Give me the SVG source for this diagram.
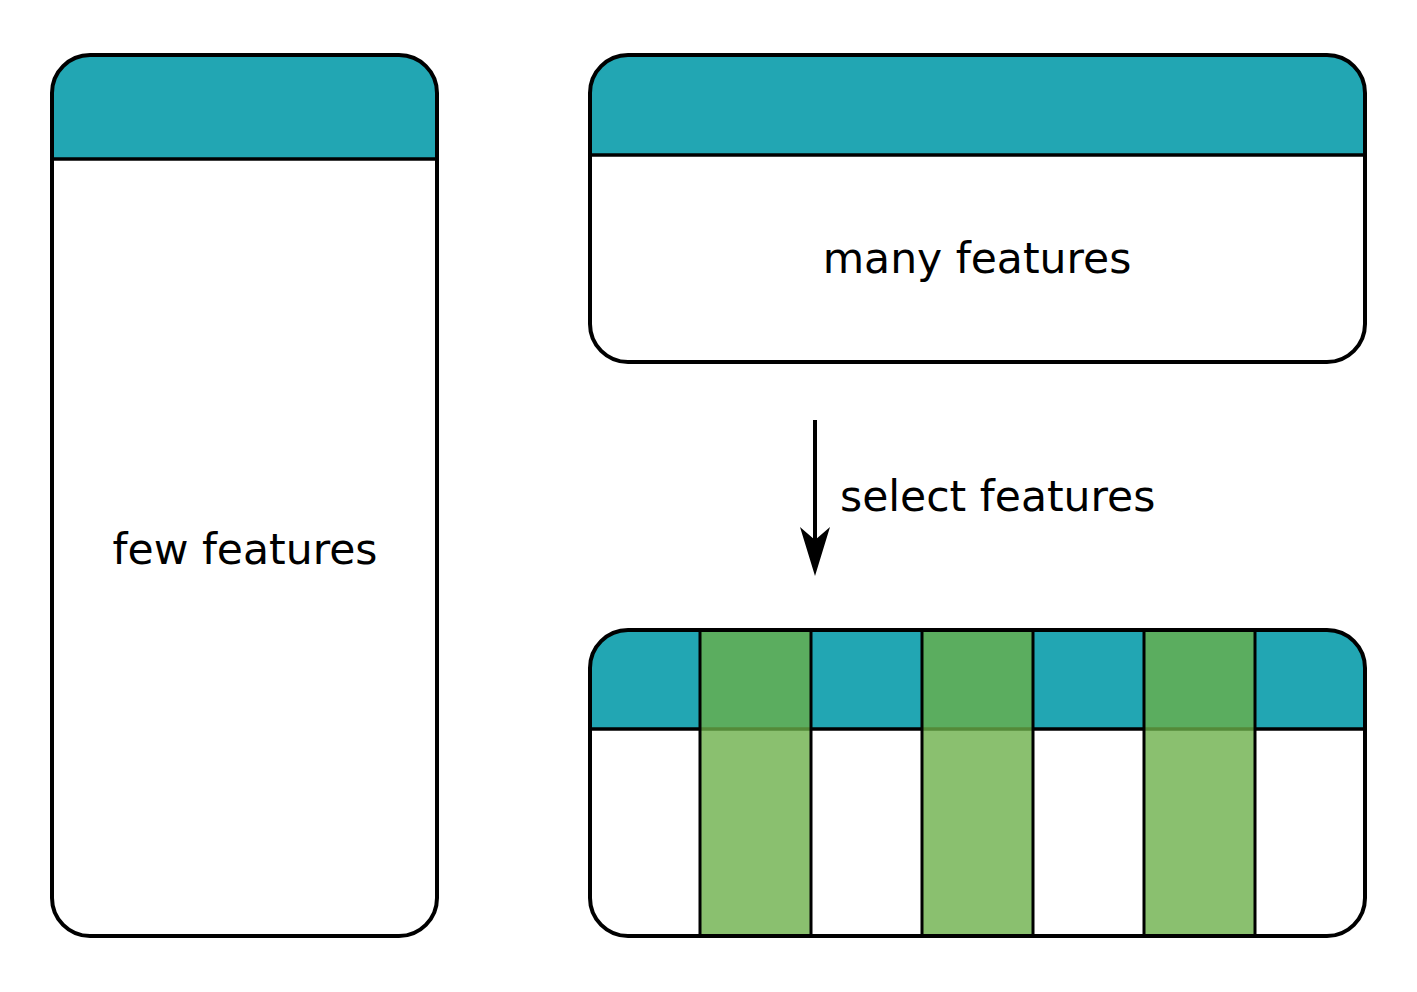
<svg xmlns="http://www.w3.org/2000/svg" width="1417" height="992" viewBox="0 0 1417 992">
<style>
.box{fill:none;stroke:#000;stroke-width:4}
.hdr{fill:#22a6b3}
.line{stroke:#000;stroke-width:3.5;fill:none}
.sel{fill:#6aaf48;fill-opacity:0.79;stroke:#000;stroke-width:3}
.lbl{font-family:"DejaVu Sans",sans-serif;font-size:42.5px;fill:#000}
</style>
<defs>
<clipPath id="c1"><rect x="52" y="55" width="385" height="881" rx="38"/></clipPath>
<clipPath id="c2"><rect x="590" y="55" width="775" height="307" rx="38"/></clipPath>
<clipPath id="c3"><rect x="590" y="630" width="775" height="306" rx="38"/></clipPath>
</defs>
<g id="few">
<rect x="52" y="55" width="385" height="881" rx="38" fill="#fff"/>
<rect class="hdr" x="52" y="55" width="385" height="104" clip-path="url(#c1)"/>
<line class="line" x1="52" y1="159" x2="437" y2="159"/>
<rect class="box" x="52" y="55" width="385" height="881" rx="38"/>
<text class="lbl" x="245" y="564" text-anchor="middle">few features</text>
</g>
<g id="many">
<rect x="590" y="55" width="775" height="307" rx="38" fill="#fff"/>
<rect class="hdr" x="590" y="55" width="775" height="100" clip-path="url(#c2)"/>
<line class="line" x1="590" y1="155" x2="1365" y2="155"/>
<rect class="box" x="590" y="55" width="775" height="307" rx="38"/>
<text class="lbl" x="977" y="273" text-anchor="middle">many features</text>
</g>
<g id="selected">
<rect x="590" y="630" width="775" height="306" rx="38" fill="#fff"/>
<rect class="hdr" x="590" y="630" width="775" height="99" clip-path="url(#c3)"/>
<line class="line" x1="590" y1="729" x2="1365" y2="729"/>
<rect class="sel" x="700" y="630" width="111" height="306"/>
<rect class="sel" x="922" y="630" width="111" height="306"/>
<rect class="sel" x="1144" y="630" width="111" height="306"/>
<rect class="box" x="590" y="630" width="775" height="306" rx="38"/>
</g>
<g id="connectors">
<line x1="815" y1="420" x2="815" y2="545" stroke="#000" stroke-width="4"/>
<path d="M800,527 L815,540 L830,527 L815,576 Z" fill="#000"/>
<text class="lbl" x="840" y="511">select features</text>
</g>
</svg>
